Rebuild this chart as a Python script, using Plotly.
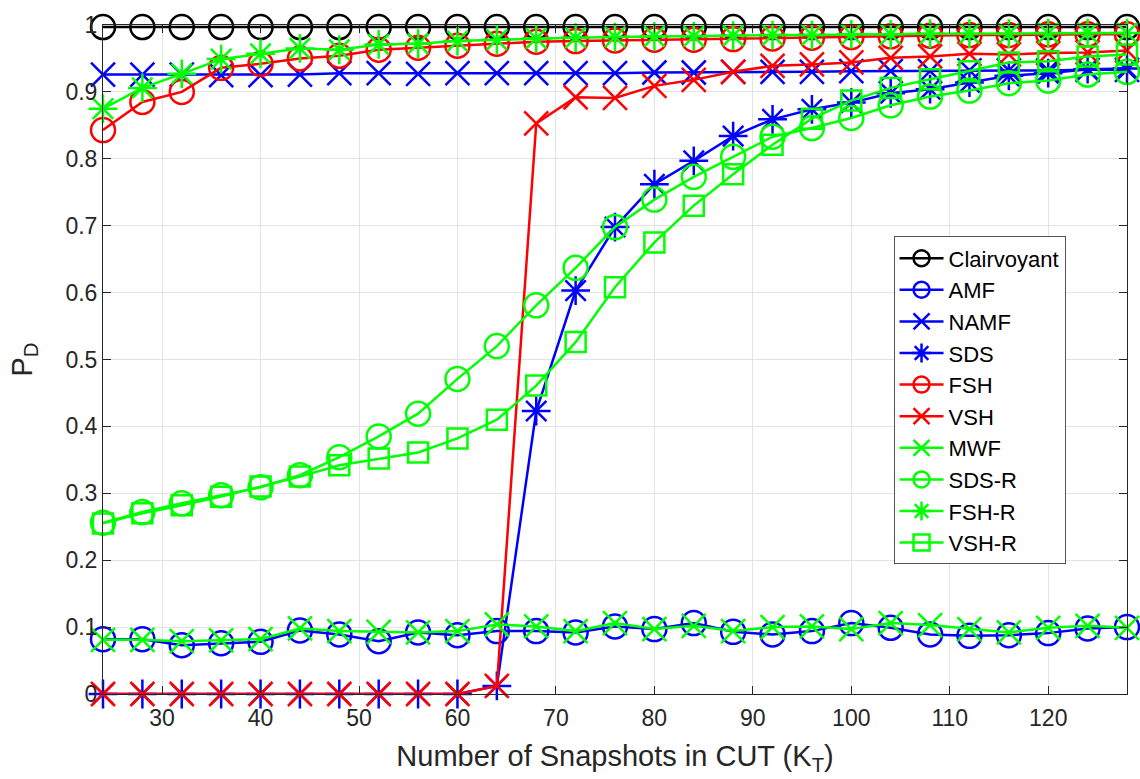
import plotly.graph_objects as go

# Number of snapshots in the cell under test
k_t = [24, 28, 32, 36, 40, 44, 48, 52, 56, 60, 64, 68, 72, 76,
       80, 84, 88, 92, 96, 100, 104, 108, 112, 116, 120, 124, 128]

# Probability of detection per detector
pd_clairvoyant = [0.997] * 27
pd_amf = [0.082, 0.082, 0.073, 0.076, 0.078, 0.095, 0.089, 0.079, 0.092, 0.088, 0.094, 0.094, 0.092, 0.101,
          0.097, 0.106, 0.093, 0.089, 0.094, 0.106, 0.099, 0.089, 0.087, 0.088, 0.091, 0.098, 0.100]
pd_namf = [0.926, 0.926, 0.926, 0.925, 0.925, 0.926, 0.928, 0.928, 0.927, 0.928, 0.928, 0.928, 0.928, 0.928,
           0.929, 0.929, 0.930, 0.930, 0.930, 0.931, 0.931, 0.931, 0.932, 0.932, 0.932, 0.933, 0.933]
pd_sds = [0.0, 0.0, 0.0, 0.0, 0.0, 0.0, 0.0, 0.0, 0.0, 0.0, 0.012, 0.423, 0.603, 0.698,
          0.762, 0.797, 0.834, 0.859, 0.874, 0.884, 0.898, 0.904, 0.914, 0.924, 0.928, 0.934, 0.935]
pd_fsh = [0.843, 0.885, 0.900, 0.936, 0.942, 0.950, 0.954, 0.963, 0.966, 0.969, 0.972, 0.975, 0.976, 0.977,
          0.978, 0.978, 0.979, 0.980, 0.981, 0.982, 0.983, 0.984, 0.985, 0.985, 0.986, 0.986, 0.986]
pd_vsh = [0.0, 0.0, 0.0, 0.0, 0.0, 0.0, 0.0, 0.0, 0.0, 0.0, 0.012, 0.853, 0.892, 0.891,
          0.909, 0.918, 0.930, 0.939, 0.941, 0.944, 0.951, 0.953, 0.957, 0.956, 0.958, 0.959, 0.962]
pd_mwf = [0.081, 0.081, 0.079, 0.080, 0.082, 0.098, 0.094, 0.093, 0.092, 0.094, 0.104, 0.101, 0.094, 0.106,
          0.097, 0.102, 0.094, 0.100, 0.101, 0.097, 0.106, 0.103, 0.097, 0.092, 0.099, 0.102, 0.099]
pd_sds_r = [0.256, 0.272, 0.285, 0.297, 0.309, 0.327, 0.354, 0.385, 0.419, 0.471, 0.520, 0.581, 0.637, 0.698,
            0.739, 0.773, 0.803, 0.833, 0.846, 0.861, 0.880, 0.893, 0.902, 0.913, 0.917, 0.926, 0.930]
pd_fsh_r = [0.875, 0.906, 0.927, 0.949, 0.957, 0.965, 0.963, 0.971, 0.972, 0.976, 0.978, 0.980, 0.981, 0.982,
            0.983, 0.983, 0.984, 0.985, 0.985, 0.986, 0.986, 0.987, 0.987, 0.987, 0.988, 0.988, 0.988]
pd_vsh_r = [0.255, 0.270, 0.282, 0.295, 0.310, 0.325, 0.342, 0.352, 0.361, 0.382, 0.410, 0.461, 0.526, 0.608,
            0.675, 0.730, 0.777, 0.821, 0.860, 0.887, 0.906, 0.919, 0.931, 0.944, 0.946, 0.953, 0.956]

x_ticks = [30, 40, 50, 60, 70, 80, 90, 100, 110, 120]
y_ticks = [0, 0.1, 0.2, 0.3, 0.4, 0.5, 0.6, 0.7, 0.8, 0.9, 1]
y_tick_text = ["0", "0.1", "0.2", "0.3", "0.4", "0.5", "0.6", "0.7", "0.8", "0.9", "1"]

series = [
    ("Clairvoyant", pd_clairvoyant, "#000000", "circle-open"),
    ("AMF", pd_amf, "#0000ff", "circle-open"),
    ("NAMF", pd_namf, "#0000ff", "x-thin-open"),
    ("SDS", pd_sds, "#0000ff", "asterisk-open"),
    ("FSH", pd_fsh, "#ff0000", "circle-open"),
    ("VSH", pd_vsh, "#ff0000", "x-thin-open"),
    ("MWF", pd_mwf, "#00ff00", "x-thin-open"),
    ("SDS-R", pd_sds_r, "#00ff00", "circle-open"),
    ("FSH-R", pd_fsh_r, "#00ff00", "asterisk-open"),
    ("VSH-R", pd_vsh_r, "#00ff00", "square-open"),
]

fig = go.Figure()
for name, vals, color, symbol in series:
    size = 20 if symbol == "square-open" else 24
    fig.add_trace(go.Scatter(
        x=k_t, y=vals, name=name, mode="lines+markers",
        line=dict(color=color, width=2.5),
        marker=dict(symbol=symbol, size=size, color=color,
                    line=dict(color=color, width=2.5)),
        cliponaxis=False,
    ))

axis_color = "#262626"
grid_color = "#e3e3e3"
font_family = "Liberation Sans, Arial, sans-serif"

fig.update_layout(
    width=1140, height=779,
    margin=dict(l=103, r=13, t=22, b=84),
    paper_bgcolor="white", plot_bgcolor="white",
    font=dict(family=font_family, color=axis_color, size=23),
    showlegend=True,
    legend=dict(
        x=0.772, y=0.684, xanchor="left", yanchor="top",
        bgcolor="white", bordercolor="#555555", borderwidth=1,
        font=dict(size=22, color="#000000"),
        itemwidth=44, tracegroupgap=0,
    ),
)
fig.update_xaxes(
    range=[24, 128], tickvals=x_ticks,
    showgrid=True, gridcolor=grid_color, gridwidth=1,
    showline=True, linecolor=axis_color, linewidth=1, mirror="ticks",
    ticks="inside", ticklen=8, tickcolor=axis_color,
    zeroline=False, ticklabelstandoff=3,
    title=dict(text="Number of Snapshots in CUT (K<sub>T</sub>)", font=dict(size=29), standoff=16),
)
fig.update_yaxes(
    range=[0, 1], tickvals=y_ticks, ticktext=y_tick_text,
    showgrid=True, gridcolor=grid_color, gridwidth=1,
    showline=True, linecolor=axis_color, linewidth=1, mirror="ticks",
    ticks="inside", ticklen=8, tickcolor=axis_color,
    zeroline=False,
    title=dict(text="P<sub>D</sub>", font=dict(size=29), standoff=24),
)

fig.write_html("out.html")
